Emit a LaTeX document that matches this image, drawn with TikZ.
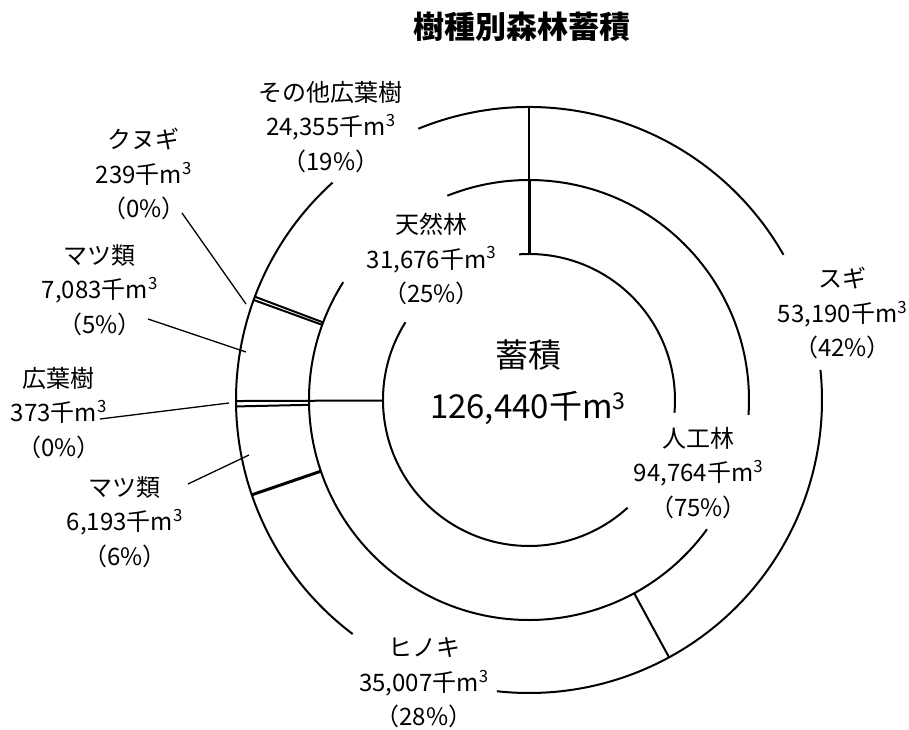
\documentclass[tikz,border=0pt]{standalone}
\usepackage{fontspec}
\setmainfont{Noto Sans CJK JP}
\usepackage{tikz}
\newcommand{\ringarc}[3]{\draw[ring] (#1:#3) arc[start angle=#1, end angle=#2, radius=#3];}

\begin{document}
\begin{tikzpicture}[x=1pt, y=1pt,
		ring/.style={line width=2pt},
		seam/.style={line width=3pt},
		leader/.style={line width=1.3pt},
		lbl/.style={align=center, inner sep=0pt, font=\fontsize{24}{34.5}\selectfont}]
			%%%%% START %%%%%
			
			\fill[white] (-529,-329) rectangle (380,400);
			\useasboundingbox (-529,-329) rectangle (380,400);
			
			\node[font=\bfseries\fontsize{31}{31}\selectfont] (title) at (-7.5,373) {樹種別森林蓄積};
			
			% inner circle
			\ringarc{-5}{93.9}{146}
			\ringarc{147.8}{312.5}{146}
			
			% middle circle
			\ringarc{-3.9}{111.8}{220}
			\ringarc{147.6}{324}{220}
			
			% outer circle
			\ringarc{29.7}{112.2}{293}
			\ringarc{132.1}{233}{293}
			\ringarc{-96.3}{5.9}{293}
			
			% slice borders
			\draw[ring] (90:220) -- (90:293);
			\draw[seam] (90:146) -- (90:220);
			\draw[ring] (-61.44:220) -- (-61.44:293);
			\draw[seam] (-161.11:220) -- (-161.11:293);
			\draw[ring] (-178.74:220) -- (-178.74:293);
			\draw[ring] (-179.80:146) -- (-179.80:293);
			\draw[ring] (160.03:220) -- (160.03:293);
			\draw[ring] (159.35:220) -- (159.35:293);
			
			\node[lbl, font=\fontsize{33}{51}\selectfont] (total) at (-1,17.5) {蓄積\\126,440千m\textsuperscript{3}};
			
			\node[lbl] (jinkou) at (169.5,-73) {人工林\\94,764千m\textsuperscript{3}\\（75\%）};
			\node[lbl] (tennen) at (-97.5,141) {天然林\\31,676千m\textsuperscript{3}\\（25\%）};
			
			\node[lbl] (sugi) at (313.5,87) {スギ\\53,190千m\textsuperscript{3}\\（42\%）};
			\node[lbl] (hinoki) at (-105,-283) {ヒノキ\\35,007千m\textsuperscript{3}\\（28\%）};
			\node[lbl] (matsu-a) at (-404,-122) {マツ類\\6,193千m\textsuperscript{3}\\（6\%）};
			\node[lbl] (kouyou-a) at (-470,-13) {広葉樹\\373千m\textsuperscript{3}\\（0\%）};
			\node[lbl] (matsu-b) at (-429,110) {マツ類\\7,083千m\textsuperscript{3}\\（5\%）};
			\node[lbl] (kunugi) at (-385,226) {クヌギ\\239千m\textsuperscript{3}\\（0\%）};
			\node[lbl] (sonota) at (-198,273) {その他広葉樹\\24,355千m\textsuperscript{3}\\（19\%）};
			
			% leader lines
			\coordinate (matsu-a-tip) at (-280,-55);
			\coordinate (kouyou-a-tip) at (-300,-3);
			\coordinate (matsu-b-tip) at (-283,48);
			\coordinate (kunugi-tip) at (-283,96);
			\draw[leader] ([xshift=63pt,yshift=38pt]matsu-a.center) -- (matsu-a-tip);
			\draw[leader] ([xshift=41pt,yshift=-6pt]kouyou-a.center) -- (kouyou-a-tip);
			\draw[leader] ([xshift=48pt,yshift=-29pt]matsu-b.center) -- (matsu-b-tip);
			\draw[leader] ([xshift=38pt,yshift=-39pt]kunugi.center) -- (kunugi-tip);
			
			%%%%% END %%%%%
\end{tikzpicture}
\end{document}
